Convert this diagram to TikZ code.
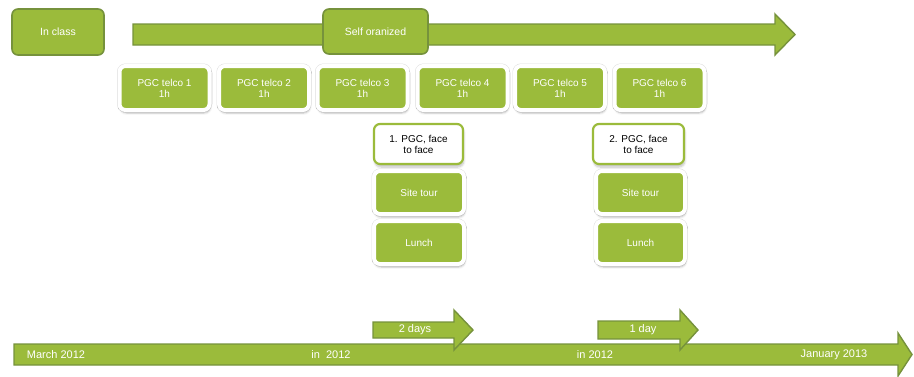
\documentclass[tikz,border=0pt]{standalone}
\usepackage{fontspec}
\setmainfont{Liberation Sans}
\usetikzlibrary{shadows.blur}
\definecolor{leaf}{RGB}{155,187,59}
\definecolor{leafdark}{RGB}{118,146,60}
\begin{document}
\begin{tikzpicture}[x=1pt,y=-1pt,
  phase/.style={draw=leafdark, line width=1.6pt, fill=leaf, rounded corners=6pt,
    text=white, font=\fontsize{10.5}{12}\selectfont, inner sep=0pt},
  task/.style={draw=white, line width=4pt, fill=leaf, rounded corners=6pt,
    preaction={draw=black!13, line width=5pt},
    text=white, align=center, font=\fontsize{10}{11}\selectfont, inner sep=0pt,
    minimum width=90pt, minimum height=44pt,
    blur shadow={shadow xshift=0.8pt, shadow yshift=-3pt, shadow opacity=25, shadow blur steps=6}},
  meet/.style={draw=leaf, line width=2.2pt, fill=white, rounded corners=6pt,
    text=black, align=center, font=\fontsize{10}{11}\selectfont, inner sep=0pt,
    minimum width=89pt, minimum height=40pt,
    blur shadow={shadow xshift=0.8pt, shadow yshift=-3pt, shadow opacity=25, shadow blur steps=6}},
  band/.style={draw=leafdark, line width=1.4pt, fill=leaf},
  lbl/.style={text=white, font=\fontsize{11}{13}\selectfont, inner sep=0pt}
]
\useasboundingbox (0,0) rectangle (914,376);

% top timeline arrow and the two phases
\draw[band] (133,24) -- (775,24) -- (775,14) -- (795,34.5) -- (775,55)
  -- (775,45) -- (133,45) -- cycle;
\node[phase, minimum width=92pt, minimum height=46pt] (inclass) at (58,32) {In class};
\node[phase, minimum width=105pt, minimum height=45pt] (selforg) at (375.5,31.5) {Self oranized};

% telephone conferences
\node[task] (t1) at (164.5,88) {PGC telco 1\\1h};
\node[task] (t2) at (264,88) {PGC telco  2\\1h};
\node[task] (t3) at (362.5,88) {PGC telco 3\\1h};
\node[task] (t4) at (462.5,88) {PGC telco 4\\1h};
\node[task] (t5) at (560,88) {PGC telco 5\\1h};
\node[task] (t6) at (659.5,88) {PGC telco 6\\1h};

% first face-to-face meeting
\node[meet] (m1) at (418.5,144) {1. PGC, face\\to face};
\node[task, minimum height=43pt] (s1) at (419,192.5) {Site tour};
\node[task, minimum height=43pt] (l1) at (419,242.5) {Lunch};

% second face-to-face meeting
\node[meet, minimum width=91pt] (m2) at (638.5,144) {2. PGC, face\\to face};
\node[task, minimum width=89pt, minimum height=43pt] (s2) at (640.5,192.5) {Site tour};
\node[task, minimum width=89pt, minimum height=43pt] (l2) at (640.5,242.5) {Lunch};

% bottom calendar arrow
\draw[band] (14,344) -- (898,344) -- (898,333) -- (912,354.5) -- (898,376)
  -- (898,365) -- (14,365) -- cycle;
\node[lbl] (march) at (56,355) {March 2012};
\node[lbl] (mid1) at (331,355) {in \ 2012};
\node[lbl] (mid2) at (595,355) {in 2012};
\node[lbl] (jan) at (834,355) {January 2013};

% meeting durations
\draw[band] (373,322) -- (454,322) -- (454,310) -- (473,330) -- (454,350)
  -- (454,338) -- (373,338) -- cycle;
\node[lbl] (dur1) at (415,330) {2 days};
\draw[band] (598,321) -- (680,321) -- (680,310) -- (698,330) -- (680,350)
  -- (680,339) -- (598,339) -- cycle;
\node[lbl] (dur2) at (643,330) {1 day};
\end{tikzpicture}
\end{document}
